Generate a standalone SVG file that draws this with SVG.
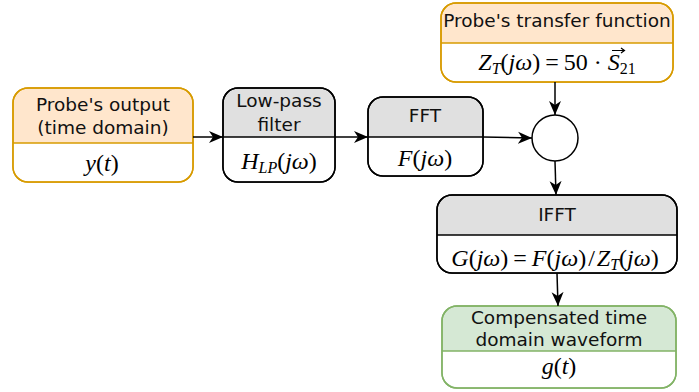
<svg xmlns="http://www.w3.org/2000/svg" width="699" height="392" viewBox="0 0 699 392">
<defs>
<style>
.hd{font-family:"DejaVu Sans",sans-serif;font-size:18.5px;fill:#111;text-anchor:middle}
.mt{font-family:"Liberation Serif","DejaVu Serif",serif;font-size:24px;fill:#000;text-anchor:middle}
.i{font-style:italic}
.sb{font-size:16px}
.o{fill:#ffe6cc;stroke:#d79b00;stroke-width:1.5}
.g{fill:#e0e0e0;stroke:#000;stroke-width:1.5}
.gr{fill:#d5e8d4;stroke:#82b366;stroke-width:1.5}
.w{fill:#fff}
.ln{fill:none;stroke-width:1.5}
.c{fill:none;stroke:#000;stroke-width:1.5}
</style>
<marker id="ar" markerWidth="15" markerHeight="13" refX="14" refY="6" orient="auto" markerUnits="userSpaceOnUse" viewBox="0 0 15 12">
<path d="M0,0 L14,6 L0,12 L4,6 Z" fill="#000"/>
</marker>
</defs>

<g id="probe-output">
<rect x="13" y="88" width="180" height="94" rx="15" class="o"/>
<path d="M13.75,143 H192.25 V167 A15,15 0 0 1 177.25,181.25 H28.75 A15,15 0 0 1 13.75,167 Z" class="w"/>
<line x1="13" y1="143" x2="193" y2="143" stroke="#d79b00" class="ln"/>
<rect x="13" y="88" width="180" height="94" rx="15" fill="none" stroke="#d79b00" stroke-width="1.5"/>
<text class="hd" x="103" y="111">Probe's output</text>
<text class="hd" x="103" y="134">(time domain)</text>
<text class="mt" x="102" y="171"><tspan class="i">y</tspan>(<tspan class="i">t</tspan>)</text>
</g>

<g id="lowpass">
<rect x="223" y="88" width="112" height="94" rx="15" class="g"/>
<path d="M223.75,137 H334.25 V167 A15,15 0 0 1 319.25,181.25 H238.75 A15,15 0 0 1 223.75,167 Z" class="w"/>
<line x1="223" y1="137" x2="335" y2="137" stroke="#000" class="ln"/>
<rect x="223" y="88" width="112" height="94" rx="15" fill="none" stroke="#000" stroke-width="1.5"/>
<text class="hd" x="279" y="107">Low-pass</text>
<text class="hd" x="279" y="131">filter</text>
<text class="mt" x="279" y="169"><tspan class="i">H</tspan><tspan class="i sb" dy="4">LP</tspan><tspan dy="-4">(</tspan><tspan class="i">jω</tspan>)</text>
</g>

<g id="fft">
<rect x="368" y="97" width="115" height="79" rx="15" class="g"/>
<path d="M368.75,137 H482.25 V161 A15,15 0 0 1 467.25,175.25 H383.75 A15,15 0 0 1 368.75,161 Z" class="w"/>
<line x1="368" y1="137" x2="483" y2="137" stroke="#000" class="ln"/>
<rect x="368" y="97" width="115" height="79" rx="15" fill="none" stroke="#000" stroke-width="1.5"/>
<text class="hd" x="425" y="122">FFT</text>
<text class="mt" x="425" y="166"><tspan class="i">F</tspan>(<tspan class="i">jω</tspan>)</text>
</g>

<g id="transfer">
<rect x="441" y="3" width="232" height="79" rx="15" class="o"/>
<path d="M441.75,43 H672.25 V67 A15,15 0 0 1 657.25,81.25 H456.75 A15,15 0 0 1 441.75,67 Z" class="w"/>
<line x1="441" y1="43" x2="673" y2="43" stroke="#d79b00" class="ln"/>
<rect x="441" y="3" width="232" height="79" rx="15" fill="none" stroke="#d79b00" stroke-width="1.5"/>
<text class="hd" x="557" y="27">Probe's transfer function</text>
<text class="mt" x="557" y="70"><tspan class="i">Z</tspan><tspan class="i sb" dy="4">T</tspan><tspan dy="-4">(</tspan><tspan class="i">jω</tspan>)<tspan dx="5">=</tspan><tspan dx="5">50 ·</tspan> <tspan class="i">S</tspan><tspan class="sb" dy="4">21</tspan></text>
<path d="M612,50.5 H624 M621,48 L624.5,50.5 L621,53" fill="none" stroke="#000" stroke-width="1.2"/>
</g>

<g id="multiply">
<circle cx="555" cy="138" r="23" fill="#fff" stroke="#000" stroke-width="1.5"/>
</g>

<g id="ifft">
<rect x="437" y="195" width="240" height="78" rx="15" class="g"/>
<path d="M437.75,235 H676.25 V258 A15,15 0 0 1 661.25,272.25 H452.75 A15,15 0 0 1 437.75,258 Z" class="w"/>
<line x1="437" y1="235" x2="677" y2="235" stroke="#000" class="ln"/>
<rect x="437" y="195" width="240" height="78" rx="15" fill="none" stroke="#000" stroke-width="1.5"/>
<text class="hd" x="557" y="221">IFFT</text>
<text class="mt" x="555" y="266"><tspan class="i">G</tspan>(<tspan class="i">jω</tspan>)<tspan dx="5">=</tspan><tspan dx="5" class="i">F</tspan>(<tspan class="i">jω</tspan>)<tspan dx="2">/</tspan><tspan dx="2" class="i">Z</tspan><tspan class="i sb" dy="4">T</tspan><tspan dy="-4">(</tspan><tspan class="i">jω</tspan>)</text>
</g>

<g id="output">
<rect x="442" y="306" width="234" height="82" rx="15" class="gr"/>
<path d="M442.75,351 H675.25 V373 A15,15 0 0 1 660.25,387.25 H457.75 A15,15 0 0 1 442.75,373 Z" class="w"/>
<line x1="442" y1="351" x2="676" y2="351" stroke="#82b366" class="ln"/>
<rect x="442" y="306" width="234" height="82" rx="15" fill="none" stroke="#82b366" stroke-width="1.5"/>
<text class="hd" x="559" y="324">Compensated time</text>
<text class="hd" x="559" y="346">domain waveform</text>
<text class="mt" x="559" y="374"><tspan class="i">g</tspan>(<tspan class="i">t</tspan>)</text>
</g>

<g id="connectors">
<line x1="193" y1="137" x2="223" y2="137" class="c" marker-end="url(#ar)"/>
<line x1="335" y1="137" x2="368" y2="137" class="c" marker-end="url(#ar)"/>
<line x1="483" y1="137" x2="532" y2="138" class="c" marker-end="url(#ar)"/>
<line x1="555" y1="82" x2="555" y2="115" class="c" marker-end="url(#ar)"/>
<line x1="555" y1="161" x2="556" y2="195" class="c" marker-end="url(#ar)"/>
<line x1="557" y1="273" x2="558" y2="306" class="c" marker-end="url(#ar)"/>
</g>
</svg>
